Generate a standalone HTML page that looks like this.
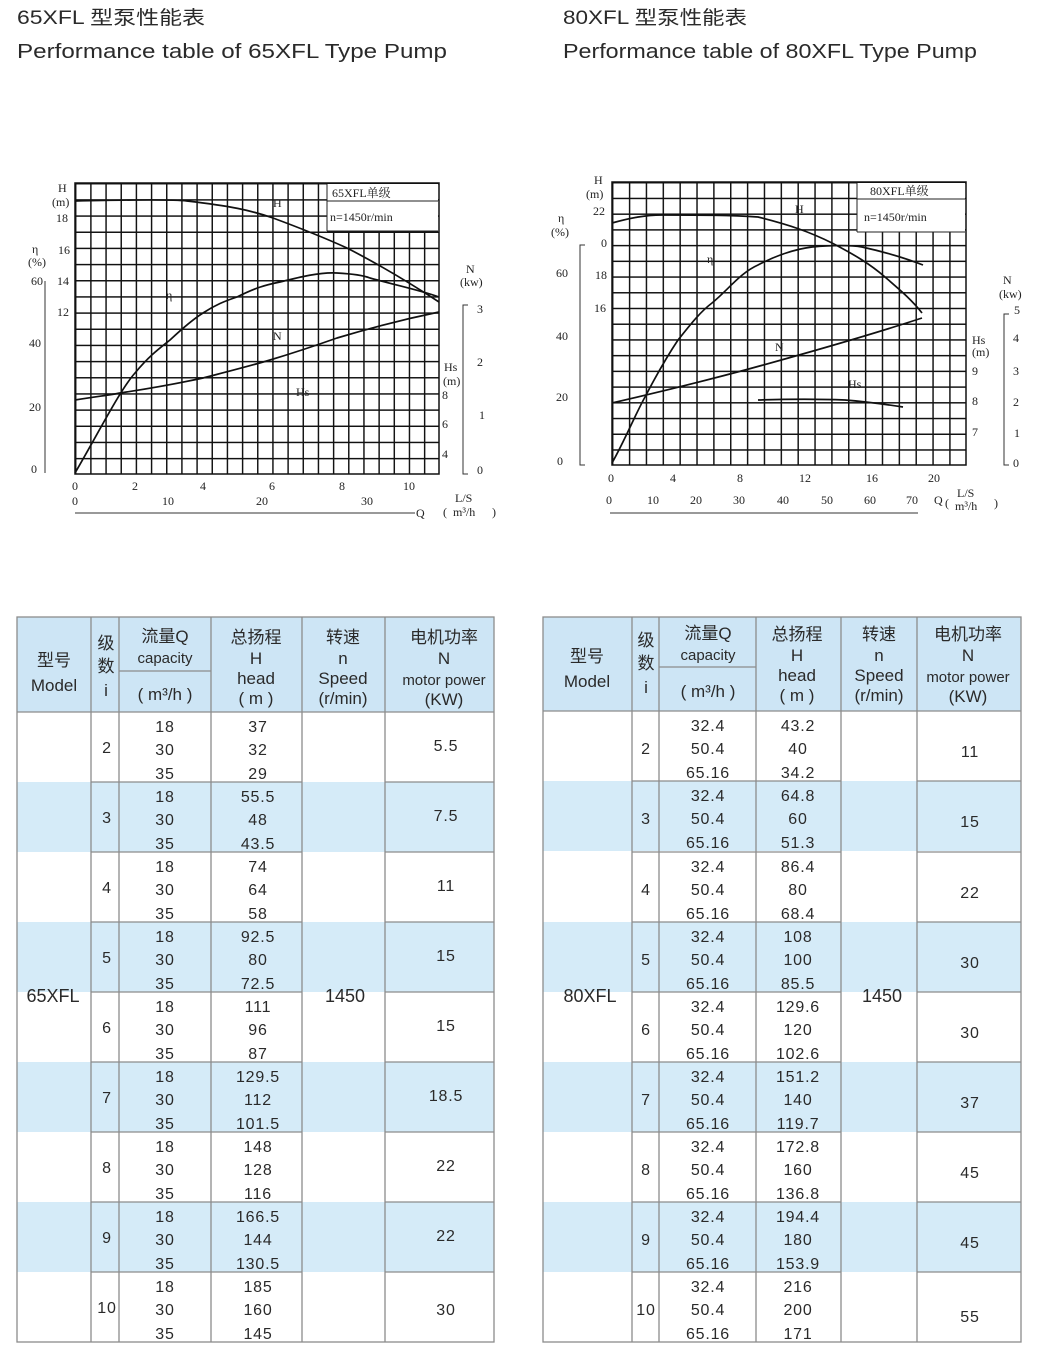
<!DOCTYPE html>
<html><head><meta charset="utf-8"><style>
html,body{margin:0;padding:0;background:#fff}
svg{display:block}
.t{font-family:"Liberation Sans","Noto Sans CJK SC",sans-serif;fill:#2a2a2a}
.c{text-anchor:middle}
.d{font-size:16px;letter-spacing:0.8px}
.h{font-size:17px}
.ax{font-family:"Liberation Serif","Noto Serif CJK SC",serif;font-size:12px;fill:#222}
.crv{fill:none;stroke:#111;stroke-width:1.7}
</style></head><body>
<svg width="1060" height="1357" viewBox="0 0 1060 1357" xmlns="http://www.w3.org/2000/svg">
<defs>
<pattern id="g1" x="75" y="183" width="15.17" height="16.17" patternUnits="userSpaceOnUse"><path d="M0.7 0V16.17M0 0.7H15.17" stroke="#111" stroke-width="1.5"/></pattern>
<pattern id="g2" x="612" y="182" width="16.86" height="15.72" patternUnits="userSpaceOnUse"><path d="M0.7 0V15.72M0 0.7H16.86" stroke="#111" stroke-width="1.5"/></pattern>
</defs>
<!-- titles -->
<text class="t" x="17" y="24" font-size="19" textLength="188" lengthAdjust="spacingAndGlyphs">65XFL 型泵性能表</text>
<text class="t" x="17" y="58" font-size="20" textLength="430" lengthAdjust="spacingAndGlyphs">Performance table of 65XFL Type Pump</text>
<text class="t" x="563" y="24" font-size="19" textLength="184" lengthAdjust="spacingAndGlyphs">80XFL 型泵性能表</text>
<text class="t" x="563" y="58" font-size="20" textLength="414" lengthAdjust="spacingAndGlyphs">Performance table of 80XFL Type Pump</text>

<!-- chart 1 -->
<rect x="75" y="183" width="364" height="291" fill="url(#g1)"/>
<rect x="75" y="183" width="364" height="291" fill="none" stroke="#111" stroke-width="1.5"/>
<rect x="327" y="184" width="111" height="47" fill="#fff"/>
<line x1="327" y1="184" x2="327" y2="231" stroke="#222"/><line x1="327" y1="231" x2="438" y2="231" stroke="#222"/>
<line x1="327" y1="201" x2="438" y2="201" stroke="#222"/>
<text class="ax" x="332" y="197">65XFL单级</text>
<text class="ax" x="330" y="221">n=1450r/min</text>
<path class="crv" d="M75,201 C120,200 170,199 187,201 C230,206 250,210 273,218 C300,228 325,238 347,248 C380,265 410,283 439,302"/>
<path class="crv" d="M75,473 C100,430 120,390 135,373 C150,355 160,348 170,340 C185,326 195,318 203,313 C215,305 225,301 237,297 C255,288 265,285 280,282 C300,277 320,272 337,273 C355,274 365,276 370,278 C395,285 420,290 439,297"/>
<path class="crv" d="M75,400 C100,396 110,395 120,393 C160,387 180,383 203,378 C230,371 250,366 270,360 C300,351 320,344 337,338 C380,325 410,318 439,312"/>
<text class="ax" x="273" y="207">H</text>
<text class="ax" x="166" y="299" font-size="13">η</text>
<text class="ax" x="273" y="340" font-size="13">N</text>
<text class="ax" x="296" y="396">Hs</text>
<text class="ax" x="58" y="192">H</text><text class="ax" x="52" y="206">(m)</text><text class="ax" x="56" y="222">18</text>
<text class="ax" x="32" y="253">η</text><text class="ax" x="58" y="254">16</text>
<text class="ax" x="28" y="266">(%)</text>
<text class="ax" x="31" y="285">60</text><text class="ax" x="57" y="285">14</text>
<text class="ax" x="57" y="316">12</text>
<text class="ax" x="29" y="347">40</text>
<text class="ax" x="29" y="411">20</text>
<text class="ax" x="31" y="473">0</text>
<line x1="45" y1="281" x2="45" y2="473" stroke="#333"/>
<text class="ax" x="72" y="490">0</text><text class="ax" x="132" y="490">2</text><text class="ax" x="200" y="490">4</text><text class="ax" x="269" y="490">6</text><text class="ax" x="339" y="490">8</text><text class="ax" x="403" y="490">10</text>
<text class="ax" x="72" y="505">0</text><text class="ax" x="162" y="505">10</text><text class="ax" x="256" y="505">20</text><text class="ax" x="361" y="505">30</text>
<line x1="75" y1="513" x2="415" y2="513" stroke="#333"/>
<text class="ax" x="416" y="517" font-size="13">Q</text>
<text class="ax" x="443" y="516" font-size="16">(</text><text class="ax" x="455" y="502" font-size="9">L/S</text><text class="ax" x="453" y="516" font-size="9">m³/h</text><text class="ax" x="492" y="516" font-size="16">)</text>
<text class="ax" x="466" y="273">N</text><text class="ax" x="460" y="286" font-size="9">(kw)</text>
<path d="M468,305 H463 V474 H468" fill="none" stroke="#333"/>
<text class="ax" x="477" y="313">3</text><text class="ax" x="477" y="366">2</text><text class="ax" x="479" y="419">1</text><text class="ax" x="477" y="474">0</text>
<text class="ax" x="444" y="371">Hs</text><text class="ax" x="443" y="385">(m)</text>
<text class="ax" x="442" y="399">8</text><text class="ax" x="442" y="428">6</text><text class="ax" x="442" y="458">4</text>

<!-- chart 2 -->
<rect x="612" y="182" width="354" height="283" fill="url(#g2)"/>
<rect x="612" y="182" width="354" height="283" fill="none" stroke="#111" stroke-width="1.5"/>
<rect x="857" y="183" width="108" height="49" fill="#fff"/>
<line x1="857" y1="183" x2="857" y2="232" stroke="#222"/><line x1="857" y1="232" x2="965" y2="232" stroke="#222"/>
<line x1="857" y1="199" x2="965" y2="199" stroke="#222"/>
<text class="ax" x="870" y="195">80XFL单级</text>
<text class="ax" x="864" y="221">n=1450r/min</text>
<path class="crv" d="M612,223 C630,218 645,215 662,215 C700,215 730,215 758,217 C790,225 810,232 832,243 C855,255 870,264 885,277 C900,290 912,300 922,313"/>
<path class="crv" d="M612,463 C625,440 635,415 645,397 C658,372 668,355 678,340 C690,325 700,312 712,303 C728,290 740,273 758,265 C775,256 795,249 812,247 C835,245 850,245 862,247 C885,252 905,258 923,265"/>
<path class="crv" d="M612,403 C660,392 700,382 745,370 C800,355 870,335 922,318"/>
<path class="crv" d="M758,400 C790,399 820,399 845,400 C870,402 890,405 903,407"/>
<text class="ax" x="795" y="213" font-size="13">H</text>
<text class="ax" x="707" y="263" font-size="10">η</text>
<text class="ax" x="775" y="351" font-size="12">N</text>
<text class="ax" x="848" y="388">Hs</text>
<text class="ax" x="594" y="184">H</text><text class="ax" x="586" y="198">(m)</text><text class="ax" x="593" y="215">22</text>
<text class="ax" x="558" y="222">η</text><text class="ax" x="551" y="236">(%)</text>
<text class="ax" x="601" y="247">0</text>
<text class="ax" x="556" y="277">60</text><text class="ax" x="595" y="279">18</text>
<text class="ax" x="594" y="312">16</text>
<text class="ax" x="556" y="340">40</text>
<text class="ax" x="556" y="401">20</text>
<text class="ax" x="557" y="465">0</text>
<path d="M585,245 H580 V465 H585" fill="none" stroke="#333"/>
<text class="ax" x="608" y="482">0</text><text class="ax" x="670" y="482">4</text><text class="ax" x="737" y="482">8</text><text class="ax" x="799" y="482">12</text><text class="ax" x="866" y="482">16</text><text class="ax" x="928" y="482">20</text>
<text class="ax" x="606" y="504">0</text><text class="ax" x="647" y="504">10</text><text class="ax" x="690" y="504">20</text><text class="ax" x="733" y="504">30</text><text class="ax" x="777" y="504">40</text><text class="ax" x="821" y="504">50</text><text class="ax" x="864" y="504">60</text><text class="ax" x="906" y="504">70</text>
<line x1="610" y1="513" x2="918" y2="513" stroke="#333"/>
<text class="ax" x="934" y="504" font-size="12">Q</text>
<text class="ax" x="945" y="507" font-size="16">(</text><text class="ax" x="957" y="497" font-size="9">L/S</text><text class="ax" x="955" y="510" font-size="9">m³/h</text><text class="ax" x="994" y="507" font-size="16">)</text>
<text class="ax" x="1003" y="284">N</text><text class="ax" x="999" y="298" font-size="9">(kw)</text>
<path d="M1009,314 H1004 V465 H1009" fill="none" stroke="#333"/>
<text class="ax" x="1014" y="314">5</text><text class="ax" x="1013" y="342">4</text><text class="ax" x="1013" y="375">3</text><text class="ax" x="1013" y="406">2</text><text class="ax" x="1014" y="437">1</text><text class="ax" x="1013" y="467">0</text>
<text class="ax" x="972" y="344">Hs</text><text class="ax" x="972" y="356" font-size="9">(m)</text>
<text class="ax" x="972" y="375">9</text><text class="ax" x="972" y="405">8</text><text class="ax" x="972" y="436">7</text>

<!-- table 1 -->
<rect x="17" y="617" width="477" height="95" fill="#cde5f5"/>
<rect x="17" y="782" width="477" height="70" fill="#d5ebf8"/>
<rect x="17" y="922" width="477" height="70" fill="#d5ebf8"/>
<rect x="17" y="1062" width="477" height="70" fill="#d5ebf8"/>
<rect x="17" y="1202" width="477" height="70" fill="#d5ebf8"/>
<g stroke="#8c8c8c" stroke-width="1.3" fill="none">
<rect x="17" y="617" width="477" height="725"/>
<path d="M91,617V1342M119,617V1342M211,617V1342M302,617V1342M385,617V1342M119,671H211M17,712H494"/>
<path d="M91,782H302M385,782H494M91,852H302M385,852H494M91,922H302M385,922H494M91,992H302M385,992H494M91,1062H302M385,1062H494M91,1132H302M385,1132H494M91,1202H302M385,1202H494M91,1272H302M385,1272H494"/>
</g>
<g class="t c h">
<text x="54" y="666">型号</text><text x="54" y="691">Model</text>
<text x="106" y="649">级</text><text x="106" y="672">数</text><text x="106" y="696">i</text>
<text x="165" y="642">流量Q</text><text x="165" y="663" font-size="15">capacity</text><text x="165" y="700">( m³/h )</text>
<text x="256" y="643">总扬程</text><text x="256" y="664">H</text><text x="256" y="684">head</text><text x="256" y="704">( m )</text>
<text x="343" y="643">转速</text><text x="343" y="664">n</text><text x="343" y="684">Speed</text><text x="343" y="704">(r/min)</text>
<text x="444" y="643">电机功率</text><text x="444" y="664">N</text><text x="444" y="685" font-size="15">motor power</text><text x="444" y="705">(KW)</text>
<text x="53" y="1002" font-size="18">65XFL</text><text x="345" y="1002" font-size="18">1450</text>
</g>
<g class="t c d">
<g transform="translate(0,712)"><text x="107" y="41">2</text><text x="165" y="20">18</text><text x="165" y="43">30</text><text x="165" y="67">35</text><text x="258" y="20">37</text><text x="258" y="43">32</text><text x="258" y="67">29</text><text x="446" y="39">5.5</text></g>
<g transform="translate(0,782)"><text x="107" y="41">3</text><text x="165" y="20">18</text><text x="165" y="43">30</text><text x="165" y="67">35</text><text x="258" y="20">55.5</text><text x="258" y="43">48</text><text x="258" y="67">43.5</text><text x="446" y="39">7.5</text></g>
<g transform="translate(0,852)"><text x="107" y="41">4</text><text x="165" y="20">18</text><text x="165" y="43">30</text><text x="165" y="67">35</text><text x="258" y="20">74</text><text x="258" y="43">64</text><text x="258" y="67">58</text><text x="446" y="39">11</text></g>
<g transform="translate(0,922)"><text x="107" y="41">5</text><text x="165" y="20">18</text><text x="165" y="43">30</text><text x="165" y="67">35</text><text x="258" y="20">92.5</text><text x="258" y="43">80</text><text x="258" y="67">72.5</text><text x="446" y="39">15</text></g>
<g transform="translate(0,992)"><text x="107" y="41">6</text><text x="165" y="20">18</text><text x="165" y="43">30</text><text x="165" y="67">35</text><text x="258" y="20">111</text><text x="258" y="43">96</text><text x="258" y="67">87</text><text x="446" y="39">15</text></g>
<g transform="translate(0,1062)"><text x="107" y="41">7</text><text x="165" y="20">18</text><text x="165" y="43">30</text><text x="165" y="67">35</text><text x="258" y="20">129.5</text><text x="258" y="43">112</text><text x="258" y="67">101.5</text><text x="446" y="39">18.5</text></g>
<g transform="translate(0,1132)"><text x="107" y="41">8</text><text x="165" y="20">18</text><text x="165" y="43">30</text><text x="165" y="67">35</text><text x="258" y="20">148</text><text x="258" y="43">128</text><text x="258" y="67">116</text><text x="446" y="39">22</text></g>
<g transform="translate(0,1202)"><text x="107" y="41">9</text><text x="165" y="20">18</text><text x="165" y="43">30</text><text x="165" y="67">35</text><text x="258" y="20">166.5</text><text x="258" y="43">144</text><text x="258" y="67">130.5</text><text x="446" y="39">22</text></g>
<g transform="translate(0,1272)"><text x="107" y="41">10</text><text x="165" y="20">18</text><text x="165" y="43">30</text><text x="165" y="67">35</text><text x="258" y="20">185</text><text x="258" y="43">160</text><text x="258" y="67">145</text><text x="446" y="43">30</text></g>
</g>

<!-- table 2 -->
<rect x="543" y="617" width="478" height="94" fill="#cde5f5"/>
<rect x="543" y="781" width="478" height="70" fill="#d5ebf8"/>
<rect x="543" y="922" width="478" height="70" fill="#d5ebf8"/>
<rect x="543" y="1062" width="478" height="70" fill="#d5ebf8"/>
<rect x="543" y="1202" width="478" height="70" fill="#d5ebf8"/>
<g stroke="#8c8c8c" stroke-width="1.3" fill="none">
<rect x="543" y="617" width="478" height="725"/>
<path d="M632,617V1342M659,617V1342M756,617V1342M841,617V1342M917,617V1342M659,667H756M543,711H1021"/>
<path d="M632,781H841M917,781H1021M632,852H841M917,852H1021M632,922H841M917,922H1021M632,992H841M917,992H1021M632,1062H841M917,1062H1021M632,1132H841M917,1132H1021M632,1202H841M917,1202H1021M632,1272H841M917,1272H1021"/>
</g>
<g class="t c h">
<text x="587" y="662">型号</text><text x="587" y="687">Model</text>
<text x="646" y="646">级</text><text x="646" y="669">数</text><text x="646" y="693">i</text>
<text x="708" y="639">流量Q</text><text x="708" y="660" font-size="15">capacity</text><text x="708" y="697">( m³/h )</text>
<text x="797" y="640">总扬程</text><text x="797" y="661">H</text><text x="797" y="681">head</text><text x="797" y="701">( m )</text>
<text x="879" y="640">转速</text><text x="879" y="661">n</text><text x="879" y="681">Speed</text><text x="879" y="701">(r/min)</text>
<text x="968" y="640">电机功率</text><text x="968" y="661">N</text><text x="968" y="682" font-size="15">motor power</text><text x="968" y="702">(KW)</text>
<text x="590" y="1002" font-size="18">80XFL</text><text x="882" y="1002" font-size="18">1450</text>
</g>
<g class="t c d">
<g transform="translate(0,711)"><text x="646" y="43">2</text><text x="708" y="20">32.4</text><text x="708" y="43">50.4</text><text x="708" y="67">65.16</text><text x="798" y="20">43.2</text><text x="798" y="43">40</text><text x="798" y="67">34.2</text><text x="970" y="46">11</text></g>
<g transform="translate(0,781)"><text x="646" y="43">3</text><text x="708" y="20">32.4</text><text x="708" y="43">50.4</text><text x="708" y="67">65.16</text><text x="798" y="20">64.8</text><text x="798" y="43">60</text><text x="798" y="67">51.3</text><text x="970" y="46">15</text></g>
<g transform="translate(0,852)"><text x="646" y="43">4</text><text x="708" y="20">32.4</text><text x="708" y="43">50.4</text><text x="708" y="67">65.16</text><text x="798" y="20">86.4</text><text x="798" y="43">80</text><text x="798" y="67">68.4</text><text x="970" y="46">22</text></g>
<g transform="translate(0,922)"><text x="646" y="43">5</text><text x="708" y="20">32.4</text><text x="708" y="43">50.4</text><text x="708" y="67">65.16</text><text x="798" y="20">108</text><text x="798" y="43">100</text><text x="798" y="67">85.5</text><text x="970" y="46">30</text></g>
<g transform="translate(0,992)"><text x="646" y="43">6</text><text x="708" y="20">32.4</text><text x="708" y="43">50.4</text><text x="708" y="67">65.16</text><text x="798" y="20">129.6</text><text x="798" y="43">120</text><text x="798" y="67">102.6</text><text x="970" y="46">30</text></g>
<g transform="translate(0,1062)"><text x="646" y="43">7</text><text x="708" y="20">32.4</text><text x="708" y="43">50.4</text><text x="708" y="67">65.16</text><text x="798" y="20">151.2</text><text x="798" y="43">140</text><text x="798" y="67">119.7</text><text x="970" y="46">37</text></g>
<g transform="translate(0,1132)"><text x="646" y="43">8</text><text x="708" y="20">32.4</text><text x="708" y="43">50.4</text><text x="708" y="67">65.16</text><text x="798" y="20">172.8</text><text x="798" y="43">160</text><text x="798" y="67">136.8</text><text x="970" y="46">45</text></g>
<g transform="translate(0,1202)"><text x="646" y="43">9</text><text x="708" y="20">32.4</text><text x="708" y="43">50.4</text><text x="708" y="67">65.16</text><text x="798" y="20">194.4</text><text x="798" y="43">180</text><text x="798" y="67">153.9</text><text x="970" y="46">45</text></g>
<g transform="translate(0,1272)"><text x="646" y="43">10</text><text x="708" y="20">32.4</text><text x="708" y="43">50.4</text><text x="708" y="67">65.16</text><text x="798" y="20">216</text><text x="798" y="43">200</text><text x="798" y="67">171</text><text x="970" y="50">55</text></g>
</g>
</svg>
</body></html>
